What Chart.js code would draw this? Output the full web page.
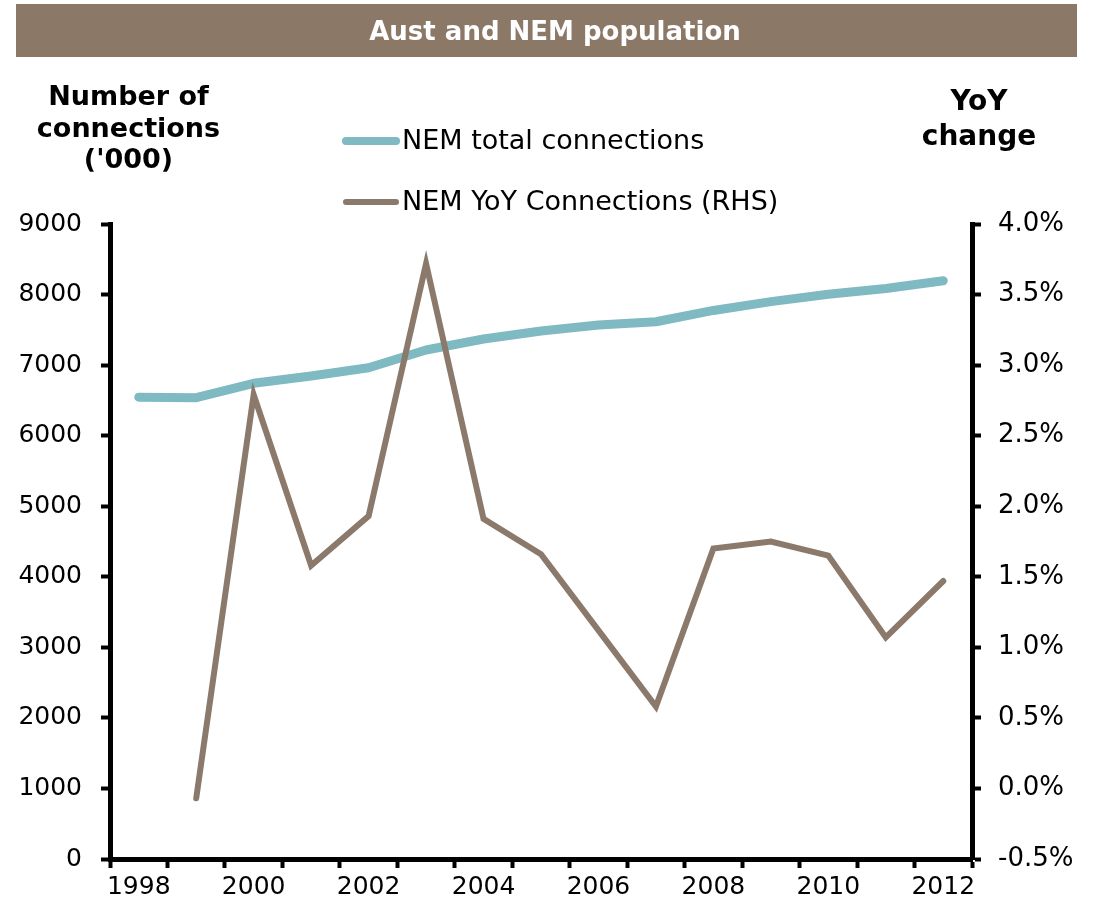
<!DOCTYPE html>
<html>
<head>
<meta charset="utf-8">
<script src="https://cdn.jsdelivr.net/npm/chart.js@4/dist/chart.umd.min.js"></script>
<style>
html,body{margin:0;padding:0;background:#fff;}
#wrap{width:1100px;height:907px;position:relative;}
</style>
</head>
<body>
<div id="wrap"><canvas id="c" width="1100" height="907"></canvas></div>
<script>
// ---- data ----
const chartTitle = 'Aust and NEM population';
const years = ['1998','1999','2000','2001','2002','2003','2004','2005','2006','2007','2008','2009','2010','2011','2012'];
const totalConnections = [6545, 6538, 6742, 6845, 6963, 7214, 7370, 7483, 7568, 7615, 7775, 7900, 8005, 8085, 8196];
const yoyChange = [null, -0.07, 2.79, 1.58, 1.93, 3.72, 1.91, 1.66, 1.12, 0.58, 1.70, 1.75, 1.65, 1.07, 1.47];
const seriesNames = ['NEM total connections', 'NEM YoY Connections (RHS)'];
const leftAxisTitle = ['Number of', 'connections', "('000)"];
const rightAxisTitle = ['YoY', 'change'];
const leftTicks = {min: 0, max: 9000, step: 1000};
const rightTicks = {min: -0.5, max: 4.0, step: 0.5};

// ---- styles ----
const FONT = "'DejaVu Sans', Verdana, sans-serif";
const TEAL = '#7FB9C1';
const BROWN = '#8B7A6B';
const BAR = '#8B7867';

const decor = {
  id: 'decor',
  beforeDraw(chart) {
    const ctx = chart.ctx;
    ctx.save();
    ctx.fillStyle = '#ffffff';
    ctx.fillRect(0, 0, chart.width, chart.height);
    ctx.restore();
  },
  afterDraw(chart) {
    const ctx = chart.ctx;
    ctx.save();
    // title bar
    ctx.fillStyle = BAR;
    ctx.fillRect(16, 4, 1061, 53);
    ctx.fillStyle = '#ffffff';
    ctx.font = 'bold 26px ' + FONT;
    ctx.textAlign = 'center';
    ctx.textBaseline = 'alphabetic';
    ctx.fillText(chartTitle, 555, 40);
    // axis titles
    ctx.fillStyle = '#000000';
    ctx.font = 'bold 27px ' + FONT;
    leftAxisTitle.forEach((t, i) => ctx.fillText(t, 128.5, 105 + i * 31.7));
    ctx.font = 'bold 28px ' + FONT;
    rightAxisTitle.forEach((t, i) => ctx.fillText(t, 979, 110 + i * 35));
    // legend
    const rows = [141, 202];
    chart.data.datasets.forEach((ds, i) => {
      ctx.strokeStyle = ds.borderColor;
      ctx.lineWidth = i === 0 ? 8 : 6;
      ctx.lineCap = 'round';
      ctx.beginPath();
      ctx.moveTo(346, rows[i]);
      ctx.lineTo(396, rows[i]);
      ctx.stroke();
      ctx.fillStyle = '#000000';
      ctx.font = '27px ' + FONT;
      ctx.textAlign = 'left';
      ctx.textBaseline = 'middle';
      ctx.fillText(ds.label, 402, rows[i] + 1);
    });
    ctx.restore();
  }
};

new Chart(document.getElementById('c'), {
  type: 'line',
  data: {
    labels: years,
    datasets: [
      {
        label: seriesNames[0],
        data: totalConnections,
        yAxisID: 'y',
        borderColor: TEAL,
        backgroundColor: TEAL,
        borderWidth: 9,
        borderCapStyle: 'round',
        borderJoinStyle: 'round',
        pointRadius: 0,
        tension: 0,
        order: 2
      },
      {
        label: seriesNames[1],
        data: yoyChange,
        yAxisID: 'y1',
        borderColor: BROWN,
        backgroundColor: BROWN,
        borderWidth: 6,
        borderCapStyle: 'round',
        borderJoinStyle: 'miter',
        pointRadius: 0,
        tension: 0,
        order: 1
      }
    ]
  },
  options: {
    responsive: false,
    animation: false,
    devicePixelRatio: 1,
    layout: {padding: {top: 224, left: 0, right: 0, bottom: 0}},
    plugins: {
      legend: {display: false},
      title: {display: false},
      tooltip: {enabled: false}
    },
    scales: {
      x: {
        type: 'category',
        offset: true,
        grid: {display: true, offset: true, drawOnChartArea: false, drawTicks: true, tickLength: 9, tickWidth: 4, tickColor: '#000'},
        border: {display: true, width: 5, color: '#000'},
        ticks: {
          autoSkip: false,
          maxRotation: 0,
          padding: 4,
          color: '#000',
          font: {family: FONT, size: 25},
          callback: function(v, i) { return i % 2 === 0 ? this.getLabelForValue(v) : ''; }
        },
        afterFit: s => { s.height = 48; }
      },
      y: {
        position: 'left',
        min: leftTicks.min, max: leftTicks.max,
        grid: {display: true, drawOnChartArea: false, drawTicks: true, tickLength: 9, tickWidth: 4, tickColor: '#000'},
        border: {display: true, width: 5, color: '#000'},
        ticks: {
          stepSize: leftTicks.step,
          padding: 19,
          color: '#000',
          font: {family: FONT, size: 25},
          callback: v => String(v)
        },
        afterFit: s => { s.width = 110; }
      },
      y1: {
        position: 'right',
        min: rightTicks.min, max: rightTicks.max,
        grid: {display: true, drawOnChartArea: false, drawTicks: true, tickLength: 9, tickWidth: 4, tickColor: '#000'},
        border: {display: true, width: 5, color: '#000'},
        ticks: {
          stepSize: rightTicks.step,
          padding: 17,
          color: '#000',
          font: {family: FONT, size: 26},
          callback: v => v.toFixed(1) + '%'
        },
        afterFit: s => { s.width = 128; }
      }
    }
  },
  plugins: [decor]
});
</script>
</body>
</html>
